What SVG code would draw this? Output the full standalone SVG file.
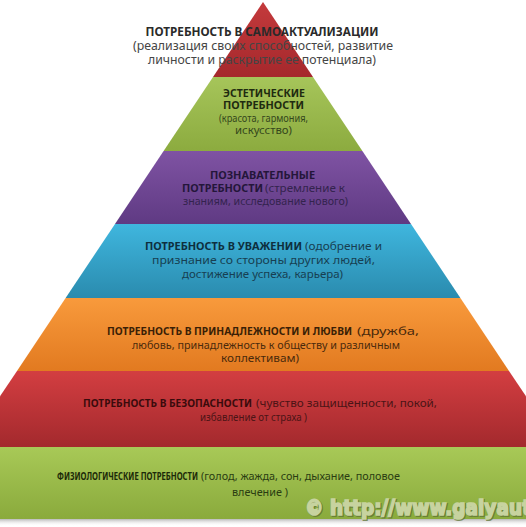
<svg xmlns="http://www.w3.org/2000/svg" width="526" height="527" viewBox="0 0 526 527">
<style>
text{font-family:"Noto Sans","Open Sans","Liberation Sans",sans-serif;text-anchor:middle}
.s{text-anchor:start}
.b{font-weight:bold}
.t0{font-size:11.8px;fill:#2a2a2a}
.t1{font-size:10.6px;fill:#1f2b10}
.t2{font-size:10.5px;fill:#24163a}
.t3{font-size:10.5px;fill:#0e2f3e}
.t4{font-size:10.5px;fill:#3a1f06}
.t5{font-size:10.2px;fill:#3a0b0c}
.t6{font-size:10.2px;fill:#1b2a08}
.p0{fill:#454545}
.p1{fill:#34461c}
.p2{fill:#33234d}
.p3{fill:#173f52}
.p4{fill:#4a2a0c}
.p5{fill:#4c1416}
.p6{fill:#2a3c12}
.wm{font-family:"DejaVu Sans","Liberation Sans",sans-serif;font-weight:900;font-stretch:condensed;font-size:22px;text-anchor:start}
.wms{fill:#5f7436;fill-opacity:0.75;stroke:#5f7436;stroke-opacity:0.75;stroke-width:2}
.wmf{fill:#c7d39f;stroke:#c7d39f;stroke-width:1.6}
</style>
<defs>
<linearGradient id="gRed" x1="0" y1="0" x2="0" y2="1"><stop offset="0" stop-color="#c43a3c"/><stop offset="1" stop-color="#a5282c"/></linearGradient>
<linearGradient id="gGreen" x1="0" y1="0" x2="0" y2="1"><stop offset="0" stop-color="#a6c55a"/><stop offset="1" stop-color="#8cab3f"/></linearGradient>
<linearGradient id="gPurple" x1="0" y1="0" x2="0" y2="1"><stop offset="0" stop-color="#7f53a3"/><stop offset="1" stop-color="#5f3a83"/></linearGradient>
<linearGradient id="gBlue" x1="0" y1="0" x2="0" y2="1"><stop offset="0" stop-color="#3fb6de"/><stop offset="1" stop-color="#2a8bae"/></linearGradient>
<linearGradient id="gOrange" x1="0" y1="0" x2="0" y2="1"><stop offset="0" stop-color="#f89a3c"/><stop offset="1" stop-color="#e27a20"/></linearGradient>
<linearGradient id="gRed2" x1="0" y1="0" x2="0" y2="1"><stop offset="0" stop-color="#d33e41"/><stop offset="1" stop-color="#a3292d"/></linearGradient>
<linearGradient id="gGreen2" x1="0" y1="0" x2="0" y2="1"><stop offset="0" stop-color="#a8c957"/><stop offset="1" stop-color="#8aaa3c"/></linearGradient>
<linearGradient id="gShadow" x1="0" y1="0" x2="0" y2="1"><stop offset="0" stop-color="#8a8a8a" stop-opacity="0.6"/><stop offset="1" stop-color="#ffffff" stop-opacity="0"/></linearGradient>
</defs>
<rect width="526" height="527" fill="#ffffff"/>

<g id="connectors"/>

<g id="level7-selfactualization">
<polygon points="263,2 313,77 213,77" fill="url(#gRed)"/>
<text class="t0 b" x="262" y="36" textLength="233" lengthAdjust="spacingAndGlyphs">ПОТРЕБНОСТЬ В САМОАКТУАЛИЗАЦИИ</text>
<text class="t0 p0" x="263" y="49.5" textLength="260" lengthAdjust="spacingAndGlyphs">(реализация своих способностей, развитие</text>
<text class="t0 p0" x="262" y="63.5" textLength="228" lengthAdjust="spacingAndGlyphs">личности и раскрытие ее потенциала)</text>
</g>

<g id="level6-aesthetic">
<polygon points="213,77 313,77 362.4,151 163.6,151" fill="url(#gGreen)"/>
<text class="t1 b" x="264" y="96.5" textLength="82" lengthAdjust="spacingAndGlyphs">ЭСТЕТИЧЕСКИЕ</text>
<text class="t1 b" x="263.5" y="109" textLength="81" lengthAdjust="spacingAndGlyphs">ПОТРЕБНОСТИ</text>
<text class="t1 p1" x="263.5" y="121.5" textLength="89" lengthAdjust="spacingAndGlyphs">(красота, гармония,</text>
<text class="t1 p1" x="263.5" y="134" textLength="57" lengthAdjust="spacingAndGlyphs">искусство)</text>
</g>

<g id="level5-cognitive">
<polygon points="163.6,151 362.4,151 411,224 115,224" fill="url(#gPurple)"/>
<text class="t2 b" x="262.5" y="179" textLength="105" lengthAdjust="spacingAndGlyphs">ПОЗНАВАТЕЛЬНЫЕ</text>
<text class="t2 b s" x="182" y="192" textLength="81" lengthAdjust="spacingAndGlyphs">ПОТРЕБНОСТИ</text>
<text class="t2 p2 s" x="265" y="192" textLength="80" lengthAdjust="spacingAndGlyphs">(стремление к</text>
<text class="t2 p2" x="265.5" y="205" textLength="165" lengthAdjust="spacingAndGlyphs">знаниям, исследование нового)</text>
</g>

<g id="level4-esteem">
<polygon points="115,224 411,224 460.4,298 65.6,298" fill="url(#gBlue)"/>
<text class="t3 b s" x="145" y="250" textLength="157" lengthAdjust="spacingAndGlyphs">ПОТРЕБНОСТЬ В УВАЖЕНИИ</text>
<text class="t3 p3 s" x="305" y="250" textLength="77" lengthAdjust="spacingAndGlyphs">(одобрение и</text>
<text class="t3 p3" x="263.5" y="264" textLength="223" lengthAdjust="spacingAndGlyphs">признание со стороны других людей,</text>
<text class="t3 p3" x="262.5" y="278" textLength="161" lengthAdjust="spacingAndGlyphs">достижение успеха, карьера)</text>
</g>

<g id="level3-belonging">
<polygon points="65.6,298 460.4,298 509,371 17,371" fill="url(#gOrange)"/>
<text class="t4 b s" x="107" y="335" textLength="245" lengthAdjust="spacingAndGlyphs">ПОТРЕБНОСТЬ В ПРИНАДЛЕЖНОСТИ И ЛЮБВИ</text>
<text class="t4 p4 s" x="357" y="335" textLength="62" lengthAdjust="spacingAndGlyphs">(дружба,</text>
<text class="t4 p4" x="266" y="349" textLength="268" lengthAdjust="spacingAndGlyphs">любовь, принадлежность к обществу и различным</text>
<text class="t4 p4" x="260" y="362" textLength="78" lengthAdjust="spacingAndGlyphs">коллективам)</text>
</g>

<g id="level2-safety">
<polygon points="17,371 509,371 560,447 -34,447" fill="url(#gRed2)"/>
<text class="t5 b s" x="83" y="407" textLength="169" lengthAdjust="spacingAndGlyphs">ПОТРЕБНОСТЬ В БЕЗОПАСНОСТИ</text>
<text class="t5 p5 s" x="256" y="407" textLength="181" lengthAdjust="spacingAndGlyphs">(чувство защищенности, покой,</text>
<text class="t5 p5" x="253.5" y="421" textLength="107" lengthAdjust="spacingAndGlyphs">избавление от страха )</text>
</g>

<g id="level1-physiological">
<rect x="0" y="519" width="526" height="7" fill="url(#gShadow)"/>
<rect x="0" y="447" width="526" height="72" fill="url(#gGreen2)"/>
<text class="t6 b s" x="57" y="480" textLength="141" lengthAdjust="spacingAndGlyphs">ФИЗИОЛОГИЧЕСКИЕ ПОТРЕБНОСТИ</text>
<text class="t6 p6 s" x="201" y="480" textLength="199" lengthAdjust="spacingAndGlyphs">(голод, жажда, сон, дыхание, половое</text>
<text class="t6 p6" x="260" y="496" textLength="56" lengthAdjust="spacingAndGlyphs">влечение )</text>
</g>

<g id="watermark">
<text class="wm wms" x="306" y="516" textLength="226" lengthAdjust="spacingAndGlyphs">© http://www.galyaut</text>
<text class="wm wmf" x="305" y="515" textLength="226" lengthAdjust="spacingAndGlyphs">© http://www.galyaut</text>
</g>
</svg>
